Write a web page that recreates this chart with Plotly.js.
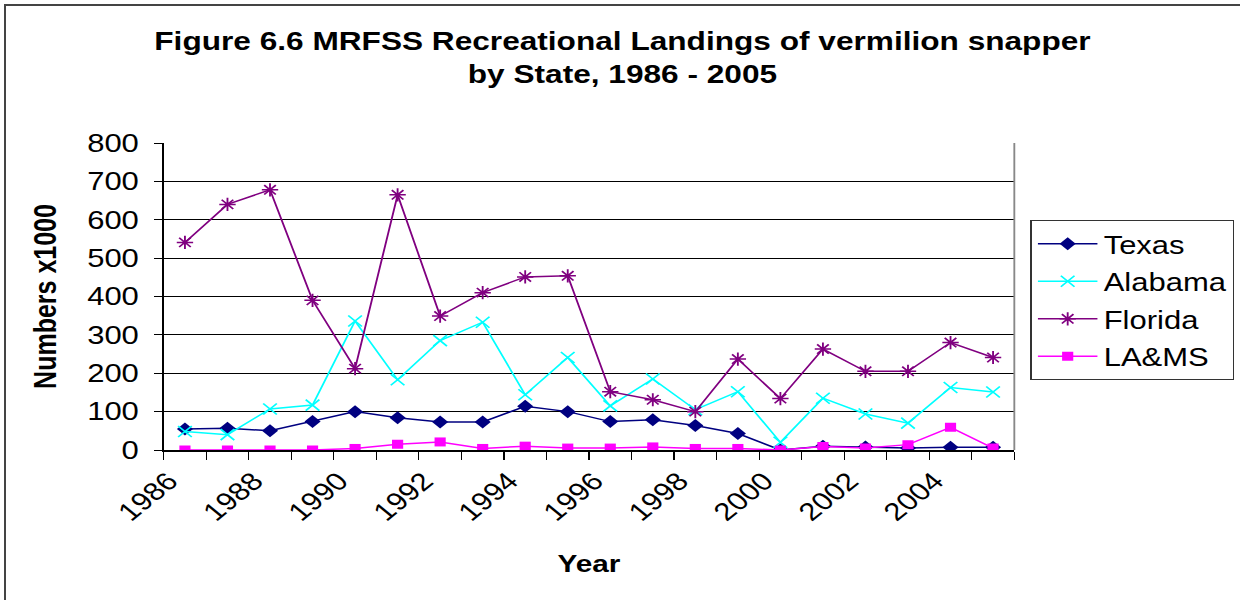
<!DOCTYPE html>
<html>
<head>
<meta charset="utf-8">
<script src="https://cdn.plot.ly/plotly-3.0.1.min.js"></script>
<style>
html,body{margin:0;padding:0;background:#fff;}
#wrap{position:relative;width:1240px;height:600px;overflow:hidden;}
#chart{position:absolute;left:0;top:0;width:1000px;height:600px;transform:scaleX(1.24);transform-origin:0 0;}
#frame{position:absolute;left:4px;top:4px;width:1260px;height:620px;border-left:2px solid #444;border-top:2px solid #444;pointer-events:none;}
</style>
</head>
<body>
<div id="wrap"><div id="chart"></div><div id="frame"></div></div>
<script>
const years = [1986,1987,1988,1989,1990,1991,1992,1993,1994,1995,1996,1997,1998,1999,2000,2001,2002,2003,2004,2005];
const texas   = [55,57,50,74,100,84,73,73,114,100,74,79,64,43,0,10,8,5,7,7];
const alabama = [48,40,107,117,336,183,285,333,144,241,115,185,105,152,20,135,94,70,163,151];
const florida = [541,640,678,390,212,665,349,410,451,454,152,131,100,237,134,263,205,205,280,241];
const lams    = [0,0,0,0,4,15,21,4,10,5,5,8,4,4,0,9,5,14,59,5];
const tickYears = [1986,1988,1990,1992,1994,1996,1998,2000,2002,2004];
const tickLabels = tickYears.map(String);

const font = 'Liberation Sans, Arial, sans-serif';
const traces = [
  {name:'Texas', legendgroup:'a', x:years, y:texas, mode:'lines+markers',
   line:{color:'#000080', width:1.5}, marker:{symbol:'diamond', size:10, color:'#000080'}},
  {name:'Alabama', legendgroup:'b', x:years, y:alabama, mode:'lines+markers',
   line:{color:'#00FFFF', width:1.5}, marker:{symbol:'x-thin-open', size:11, color:'#00FFFF', line:{width:1.5, color:'#00FFFF'}}},
  {name:'Florida', legendgroup:'c', x:years, y:florida, mode:'lines+markers',
   line:{color:'#800080', width:1.5}, marker:{symbol:'asterisk-open', size:11, color:'#800080', line:{width:1.5, color:'#800080'}}},
  {name:'LA&MS', legendgroup:'d', x:years, y:lams, mode:'lines+markers',
   line:{color:'#FF00FF', width:1.5}, marker:{symbol:'square', size:9, color:'#FF00FF'}}
];

const layout = {
  width:1000, height:600,
  margin:{l:131.5, r:181.5, t:143, b:150, autoexpand:false},
  paper_bgcolor:'rgba(0,0,0,0)', plot_bgcolor:'#fff',
  font:{family:font, color:'#000'},
  showlegend:true,
  title:{text:'<b>Figure 6.6 MRFSS Recreational Landings of vermilion snapper<br>by State, 1986 - 2005</b>',
         font:{family:font, size:25.5, color:'#000'}, x:0.502, xanchor:'center', xref:'container', y:0.917, yanchor:'middle'},
  xaxis:{type:'linear', range:[1985.5,2005.5], tickmode:'array', tickvals:tickYears, ticktext:tickLabels,
         ticks:'', tickangle:-45, tickfont:{family:font, size:25}, ticklabelshift:-13, ticklabelstandoff:5,
         minor:{tickmode:'linear', tick0:1985.5, dtick:1, ticks:'outside', ticklen:8, tickcolor:'#000', tickwidth:1, showgrid:false},
         showgrid:false, zeroline:false, showline:true, linecolor:'#000', linewidth:1.5, mirror:false,
         title:{text:'<b>Year</b>', font:{family:font, size:24}, standoff:30}},
  yaxis:{range:[0,800], dtick:100, tick0:0, ticks:'outside', ticklen:6.5, tickcolor:'#000', tickwidth:1,
         tickfont:{family:font, size:25}, ticklabelstandoff:7,
         showgrid:true, gridcolor:'#000', gridwidth:1, zeroline:false, showline:true, linecolor:'#000', linewidth:1.5,
         title:{text:'<b>Numbers x1000</b>', font:{family:font, size:25}, standoff:17}},
  legend:{x:1.019, xanchor:'left', y:0.749, yanchor:'top', bordercolor:'#333', borderwidth:1, bgcolor:'#fff',
          font:{family:font, size:25}, tracegroupgap:2, itemwidth:48},
  shapes:[
    {type:'line', xref:'paper', yref:'paper', x0:1, x1:1, y0:0, y1:1, line:{color:'#888', width:1.5}}
  ]
};
Plotly.newPlot('chart', traces, layout, {displayModeBar:false, staticPlot:true});
</script>
</body>
</html>
